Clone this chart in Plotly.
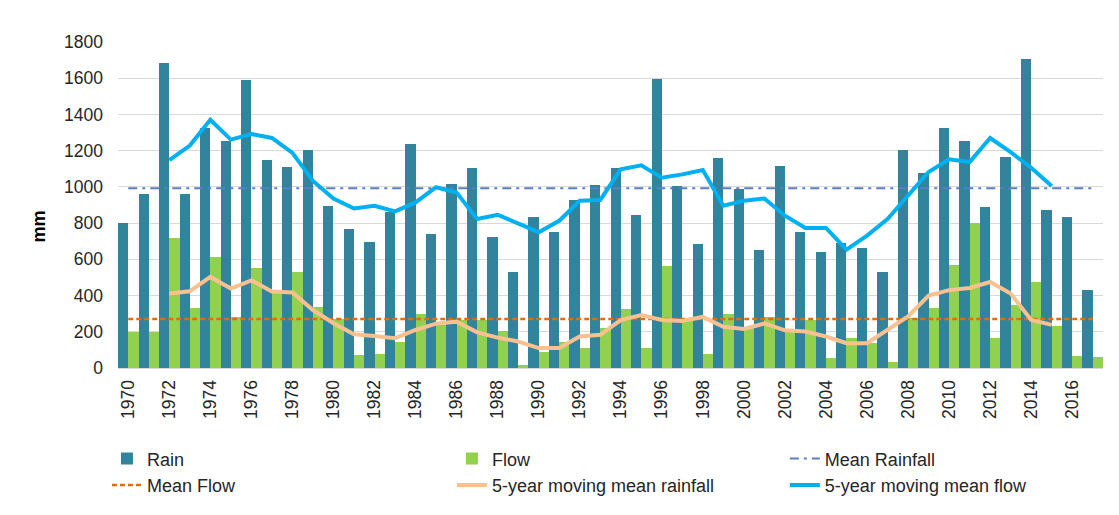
import plotly.graph_objects as go

years = list(range(1970, 2018))
rain = [800, 963, 1685, 963, 1325, 1254, 1592, 1148, 1110, 1203,
        892, 766, 693, 860, 1236, 738, 1018, 1104, 726, 528,
        832, 753, 925, 1011, 1104, 846, 1598, 1004, 687, 1157,
        989, 654, 1115, 753, 640, 691, 660, 528, 1201, 1075,
        1327, 1254, 890, 1163, 1704, 872, 832, 430]
flow = [201, 201, 718, 329, 614, 283, 554, 430, 528, 336,
        272, 73, 80, 143, 296, 240, 265, 265, 205, 18,
        91, 146, 113, 223, 324, 110, 561, 265, 80, 296,
        219, 283, 200, 265, 58, 165, 140, 33, 274, 333,
        567, 799, 165, 350, 475, 234, 66, 62]
mm_flow = [None, None,
           1148, 1228, 1371, 1261, 1292, 1270, 1188, 1033,
           936, 881, 896, 865, 914, 998, 969, 823, 846, 795,
           750, 813, 923, 928, 1097, 1119, 1051, 1069, 1093, 896,
           923, 936, 841, 773, 773, 653, 731, 823, 951, 1082,
           1152, 1137, 1270, 1192, 1106, 1005,
           None, None]
mm_rain = [None, None,
           411, 424, 503, 439, 484, 422, 417, 320,
           247, 186, 177, 165, 210, 245, 256, 197, 168, 146,
           110, 110, 174, 183, 265, 292, 265, 260, 282, 228,
           216, 246, 208, 201, 174, 137, 137, 210, 285, 400,
           430, 442, 475, 411, 265, 238,
           None, None]
mean_rainfall = 993
mean_flow = 270
tick_years = [str(y) for y in range(1970, 2017, 2)]

FONT = "Liberation Sans, Arial, sans-serif"
TXT = "#262626"

fig = go.Figure()
fig.add_trace(go.Bar(x=years, y=rain, name="Rain", marker_color="#31849B",
                     marker_line_width=0, legend="legend"))
fig.add_trace(go.Bar(x=years, y=flow, name="Flow", marker_color="#92D050",
                     marker_line_width=0, legend="legend2"))
fig.add_trace(go.Scatter(x=years, y=[mean_rainfall] * len(years), name="Mean Rainfall",
                         mode="lines", legend="legend3",
                         line=dict(color="#5B7FC4", width=2, dash="9px,5px,3px,5px")))
fig.add_trace(go.Scatter(x=years, y=[mean_flow] * len(years), name="Mean Flow",
                         mode="lines", legend="legend",
                         line=dict(color="#E46C0A", width=2.5, dash="5px,3px")))
fig.add_trace(go.Scatter(x=years, y=mm_rain, name="5-year moving mean rainfall",
                         mode="lines", legend="legend2",
                         line=dict(color="#FAC090", width=4)))
fig.add_trace(go.Scatter(x=years, y=mm_flow, name="5-year moving mean flow",
                         mode="lines", legend="legend3",
                         line=dict(color="#00B0F0", width=4)))

leg_common = dict(orientation="v", xanchor="left", y=-0.222, yanchor="top",
                  font=dict(size=18, color=TXT), traceorder="normal",
                  bgcolor="rgba(0,0,0,0)")

fig.update_layout(
    width=1119, height=515,
    margin=dict(l=118, r=16, t=42, b=145),
    paper_bgcolor="white", plot_bgcolor="white",
    font=dict(family=FONT, size=18, color=TXT),
    barmode="group", bargap=0, bargroupgap=0,
    legend=dict(x=-0.0112, **leg_common),
    legend2=dict(x=0.339, **leg_common),
    legend3=dict(x=0.677, **leg_common),
    showlegend=True,
)
fig.update_xaxes(range=[1969.5, 2017.5], tickmode="array",
                 tickvals=[int(t) for t in tick_years], ticktext=tick_years,
                 tickangle=-90, tickfont=dict(size=17.5, color=TXT),
                 showgrid=False, showline=True, linecolor="#D9D9D9", linewidth=1,
                 ticks="", ticklabelstandoff=4, zeroline=False)
fig.update_yaxes(range=[0, 1800], dtick=200, tickfont=dict(size=17.5, color=TXT),
                 showgrid=True, gridcolor="#D9D9D9", gridwidth=1,
                 zeroline=False, showline=False, ticks="", ticklabelstandoff=14)
fig.add_annotation(text="<b>mm</b>", xref="paper", yref="paper", x=-0.092, y=0.435,
                   showarrow=False, textangle=-90, font=dict(size=18, color="#000000"))

fig.write_html("out.html", config={"displayModeBar": False},
               post_script="document.body.style.margin='0';")
